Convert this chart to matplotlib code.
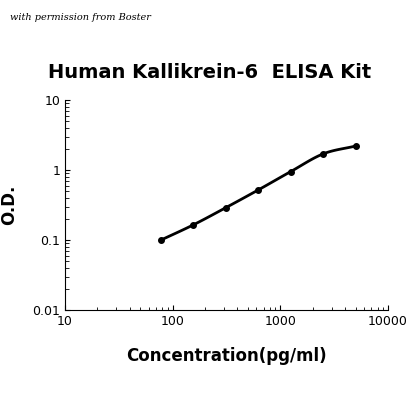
import numpy as np
import matplotlib.pyplot as plt

conc = [78, 156, 312, 625, 1250, 2500, 5000]
od = [0.100, 0.165, 0.29, 0.52, 0.95, 1.70, 2.20]

fig = plt.figure(figsize=(4.2, 4.2), dpi=100)
ax = fig.add_axes([65/420, 110/420, 323/420, 210/420])

# smooth-ish curve: Catmull-Rom style through points in log space
lx = np.log10(conc)
ly = np.log10(od)
px = np.concatenate([[2*lx[0]-lx[1]], lx, [2*lx[-1]-lx[-2]]])
py = np.concatenate([[2*ly[0]-ly[1]], ly, [2*ly[-1]-ly[-2]]])
cx, cy = [], []
t = np.linspace(0, 1, 20)
for i in range(1, len(px) - 2):
    for p, out in ((px, cx), (py, cy)):
        p0, p1, p2, p3 = p[i-1], p[i], p[i+1], p[i+2]
        out.extend(0.5*((2*p1) + (-p0+p2)*t + (2*p0-5*p1+4*p2-p3)*t**2
                        + (-p0+3*p1-3*p2+p3)*t**3))
ax.plot(10**np.array(cx), 10**np.array(cy), color='black', lw=2)
ax.plot(conc, od, 'o', color='black', ms=4)

ax.set_xscale('log')
ax.set_yscale('log')
ax.set_xlim(10, 10000)
ax.set_ylim(0.01, 10)
ax.set_xticks([10, 100, 1000, 10000])
ax.set_xticklabels(['10', '100', '1000', '10000'])
ax.set_yticks([0.01, 0.1, 1, 10])
ax.set_yticklabels(['0.01', '0.1', '1', '10'])
ax.spines['top'].set_visible(False)
ax.spines['right'].set_visible(False)
ax.tick_params(which='both', direction='in', labelsize=9)
ax.tick_params(axis='x', which='minor', length=2)
ax.tick_params(axis='y', which='minor', length=3)

ax.set_xlabel('Concentration(pg/ml)', fontsize=12, fontweight='bold', labelpad=14)
ax.set_ylabel('O.D.', fontsize=12, fontweight='bold', labelpad=10)
fig.text(0.5, 348/420, 'Human Kallikrein-6  ELISA Kit', ha='center', va='center',
         fontsize=14, fontweight='bold')
fig.text(10/420, 402/420, 'with permission from Boster', ha='left', va='center',
         fontsize=7, style='italic', family='serif')

fig.savefig('out.png', dpi=100)
